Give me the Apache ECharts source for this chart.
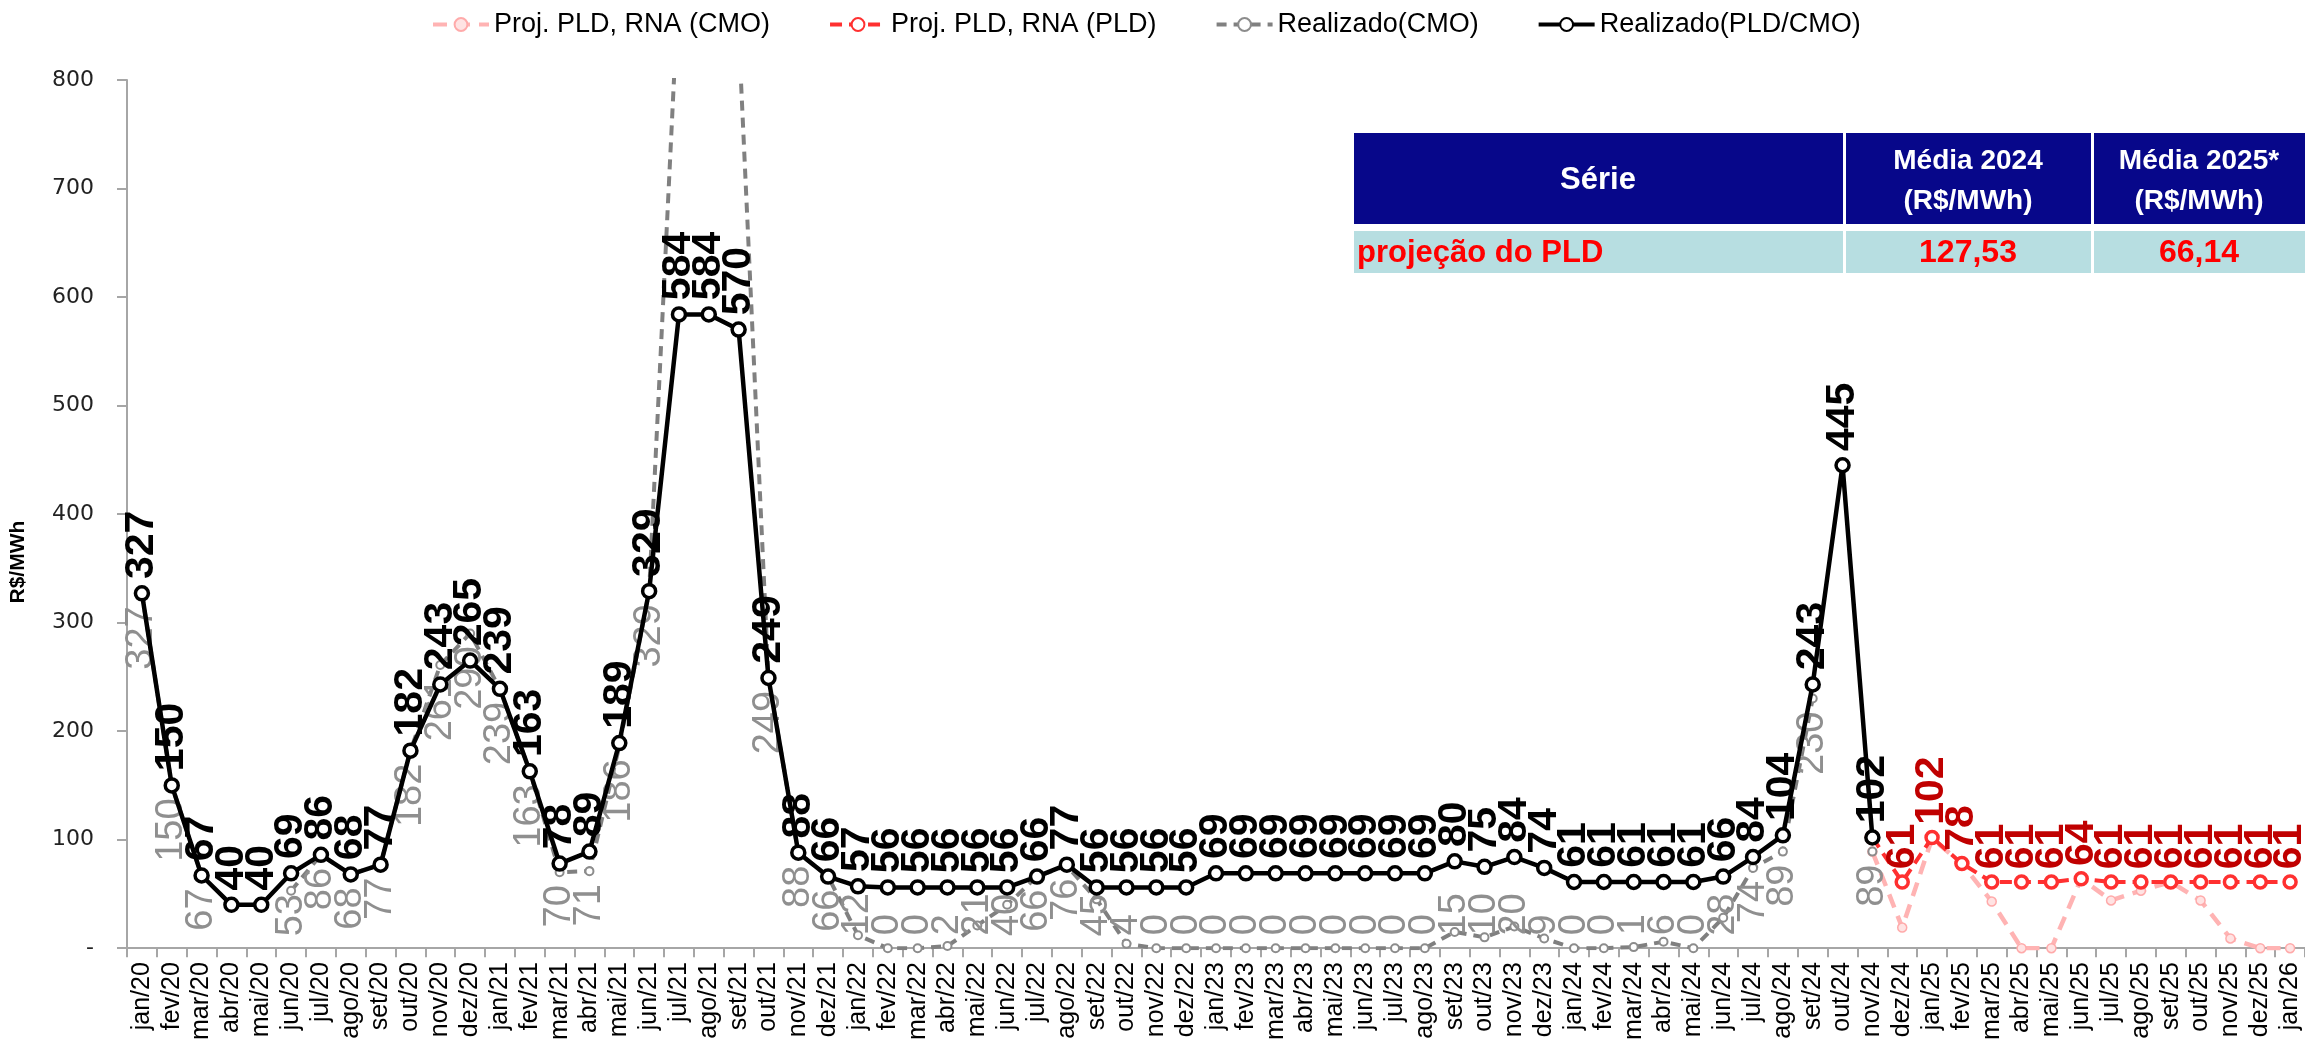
<!DOCTYPE html>
<html>
<head>
<meta charset="utf-8">
<script src="https://cdn.jsdelivr.net/npm/echarts@6/dist/echarts.min.js"></script>
<style>
  html, body { margin: 0; padding: 0; background: #fff; }
  #chart { width: 2305px; height: 1043px; }
</style>
</head>
<body>
<div id="chart"></div>
<script>
// eixo x: jan/20 .. jan/26
const months = ['jan', 'fev', 'mar', 'abr', 'mai', 'jun', 'jul', 'ago', 'set', 'out', 'nov', 'dez']
const years = ['20', '21', '22', '23', '24', '25']
const categories = []
years.forEach(y => months.forEach(m => categories.push(m + '/' + y)))
categories.push('jan/26')

// Realizado(PLD/CMO) jan/20 .. nov/24
const realPld = [
  327, 150, 67, 40, 40, 69, 86, 68, 77, 182, 243, 265,
  239, 163, 78, 89, 189, 329, 584, 584, 570, 249, 88, 66,
  57, 56, 56, 56, 56, 56, 66, 77, 56, 56, 56, 56,
  69, 69, 69, 69, 69, 69, 69, 69, 80, 75, 84, 74,
  61, 61, 61, 61, 61, 66, 84, 104, 243, 445, 102
]
// Realizado(CMO) jan/20 .. nov/24
const realCmo = [
  327, 150, 67, null, null, 53, 86, 68, 77, 182, 261, 290,
  239, 163, 70, 71, 186, 329, 895, 1100, 846, 249, 88, 66,
  12, 0, 0, 2, 21, 40, 66, 76, 45, 4, 0, 0,
  0, 0, 0, 0, 0, 0, 0, 0, 15, 10, 20, 9,
  0, 0, 1, 6, 0, 28, 74, 89, 230, null, 89
]
// projeções nov/24 .. jan/26
const projStart = 'nov/24'
const projPld = [102, 61, 102, 78, 61, 61, 61, 64, 61, 61, 61, 61, 61, 61, 61]
const projCmo = [89, 19, 101, 78, 43, 0, 0, 64, 44, 53, 61, 44, 9, 0, 0]

const tableHeader = ['Série', 'Média 2024\n(R$/MWh)', 'Média 2025*\n(R$/MWh)']
const tableRow = ['projeção do PLD', '127,53', '66,14']

const yTicks = { min: 0, max: 800, interval: 100 }

const NARROW = '"Liberation Sans Narrow", "Arial Narrow", sans-serif'
const SANS = '"Liberation Sans", Arial, sans-serif'

const pad = (arr, start) => {
  const out = categories.map(() => null)
  const i0 = categories.indexOf(start)
  arr.forEach((v, i) => { out[i0 + i] = v })
  return out
}
const full = arr => categories.map((c, i) => (i < arr.length ? arr[i] : null))

const GRID = { left: 125, top: 80, width: 2190, height: 885 }
const pxPerUnit = GRID.height / (yTicks.max - yTicks.min)

// rótulos do CMO ficam abaixo do ponto, mas não passam do eixo (como no Excel)
// o offset é aplicado no sistema do texto girado: x local aponta para cima na tela
const cmoLabel = { size: 38, distance: 8, symbol: 8, keepAbove: 14 }
const ctx = document.createElement('canvas').getContext('2d')
ctx.font = cmoLabel.size + 'px ' + NARROW
const cmoData = full(realCmo).map(v => {
  if (v == null || v > yTicks.max) return v
  const len = ctx.measureText(String(v)).width
  const over = cmoLabel.symbol / 2 + cmoLabel.distance + len + cmoLabel.keepAbove - v * pxPerUnit
  return over > 0 ? { value: v, label: { offset: [over, 0] } } : v
})

const chart = echarts.init(document.getElementById('chart'))

const option = {
  animation: false,
  backgroundColor: '#fff',
  legend: {
    top: 6,
    left: 426,
    itemWidth: 56,
    itemHeight: 16,
    itemGap: 58,
    lineStyle: { width: 4 },
    textStyle: { fontFamily: SANS, fontSize: 27, color: '#000' },
    data: ['Proj. PLD, RNA (CMO)', 'Proj. PLD, RNA (PLD)', 'Realizado(CMO)', 'Realizado(PLD/CMO)']
  },
  grid: GRID,
  xAxis: {
    type: 'category',
    data: categories,
    boundaryGap: true,
    axisLine: { lineStyle: { color: '#A6A6A6', width: 2 } },
    axisTick: { show: true, length: 9, interval: 0, lineStyle: { color: '#A6A6A6', width: 2 } },
    axisLabel: {
      interval: 0,
      rotate: 90,
      margin: 14,
      fontFamily: NARROW,
      fontSize: 25,
      color: '#000'
    }
  },
  yAxis: {
    type: 'value',
    min: yTicks.min,
    max: yTicks.max,
    interval: yTicks.interval,
    name: 'R$/MWh',
    nameLocation: 'middle',
    nameGap: 98,
    nameTextStyle: {
      fontFamily: NARROW,
      fontWeight: 'bold',
      fontSize: 21,
      color: '#000',
      padding: [0, 96, 0, 0]
    },
    axisLine: { show: true, lineStyle: { color: '#A6A6A6', width: 2 } },
    axisTick: { show: true, length: 10, lineStyle: { color: '#A6A6A6', width: 2 } },
    splitLine: { show: false },
    axisLabel: {
      margin: 33,
      fontFamily: '"DejaVu Sans", Verdana, sans-serif',
      fontSize: 22,
      color: '#222',
      formatter: v => (v === 0 ? '-' : String(v))
    }
  },
  series: [
    {
      name: 'Proj. PLD, RNA (CMO)',
      type: 'line',
      z: 2,
      data: pad(projCmo, projStart),
      symbol: 'circle',
      symbolSize: 9,
      lineStyle: { color: '#FFB3B3', width: 4.5, type: [14, 9] },
      itemStyle: { color: '#FFE3E3', borderColor: '#FFAAAA', borderWidth: 1.5 },
      label: { show: false }
    },
    {
      name: 'Proj. PLD, RNA (PLD)',
      type: 'line',
      z: 3,
      data: pad(projPld, projStart),
      symbol: 'circle',
      symbolSize: 12,
      lineStyle: { color: '#FF3030', width: 4, type: [12, 7] },
      itemStyle: { color: '#fff', borderColor: '#FF3030', borderWidth: 3.5 },
      label: {
        show: true,
        position: 'top',
        rotate: 90,
        align: 'left',
        verticalAlign: 'middle',
        distance: 5,
        fontFamily: NARROW,
        fontWeight: 'bold',
        fontSize: 41,
        color: '#C00000',
        formatter: p => (realPld[p.dataIndex] != null ? '' : String(p.value))
      }
    },
    {
      name: 'Realizado(CMO)',
      type: 'line',
      z: 4,
      data: cmoData,
      symbol: 'circle',
      symbolSize: cmoLabel.symbol,
      lineStyle: { color: '#808080', width: 4, type: [10, 7] },
      itemStyle: { color: '#fff', borderColor: '#8C8C8C', borderWidth: 2 },
      label: {
        show: true,
        position: 'bottom',
        rotate: 90,
        align: 'right',
        verticalAlign: 'middle',
        distance: cmoLabel.distance,
        fontFamily: NARROW,
        fontSize: cmoLabel.size,
        color: '#8F8F8F',
        formatter: p => (p.value > yTicks.max ? '' : String(p.value))
      }
    },
    {
      name: 'Realizado(PLD/CMO)',
      type: 'line',
      z: 5,
      data: full(realPld),
      symbol: 'circle',
      symbolSize: 13,
      lineStyle: { color: '#000', width: 4.5 },
      itemStyle: { color: '#fff', borderColor: '#000', borderWidth: 3.5 },
      label: {
        show: true,
        position: 'top',
        rotate: 90,
        align: 'left',
        verticalAlign: 'middle',
        distance: 6,
        fontFamily: NARROW,
        fontWeight: 'bold',
        fontSize: 41,
        color: '#000'
      }
    }
  ],
  graphic: [
    // tabela de médias
    { type: 'rect', shape: { x: 1354, y: 133, width: 489, height: 91 }, style: { fill: '#07078A' } },
    { type: 'rect', shape: { x: 1846, y: 133, width: 245, height: 91 }, style: { fill: '#07078A' } },
    { type: 'rect', shape: { x: 2094, y: 133, width: 230, height: 91 }, style: { fill: '#07078A' } },
    { type: 'rect', shape: { x: 1354, y: 231, width: 489, height: 42 }, style: { fill: '#B7DEE1' } },
    { type: 'rect', shape: { x: 1846, y: 231, width: 245, height: 42 }, style: { fill: '#B7DEE1' } },
    { type: 'rect', shape: { x: 2094, y: 231, width: 230, height: 42 }, style: { fill: '#B7DEE1' } },
    {
      type: 'text', x: 1598, y: 180,
      style: { text: tableHeader[0], fill: '#fff', font: 'bold 31px ' + SANS, align: 'center', verticalAlign: 'middle' }
    },
    {
      type: 'text', x: 1968, y: 181,
      style: { text: tableHeader[1], fill: '#fff', font: 'bold 28px ' + SANS, lineHeight: 40, align: 'center', verticalAlign: 'middle' }
    },
    {
      type: 'text', x: 2199, y: 181,
      style: { text: tableHeader[2], fill: '#fff', font: 'bold 28px ' + SANS, lineHeight: 40, align: 'center', verticalAlign: 'middle' }
    },
    {
      type: 'text', x: 1357, y: 253,
      style: { text: tableRow[0], fill: '#FF0000', font: 'bold 31px ' + SANS, align: 'left', verticalAlign: 'middle' }
    },
    {
      type: 'text', x: 1968, y: 253,
      style: { text: tableRow[1], fill: '#FF0000', font: 'bold 32px ' + SANS, align: 'center', verticalAlign: 'middle' }
    },
    {
      type: 'text', x: 2199, y: 253,
      style: { text: tableRow[2], fill: '#FF0000', font: 'bold 32px ' + SANS, align: 'center', verticalAlign: 'middle' }
    }
  ]
}

chart.setOption(option)
</script>
</body>
</html>
